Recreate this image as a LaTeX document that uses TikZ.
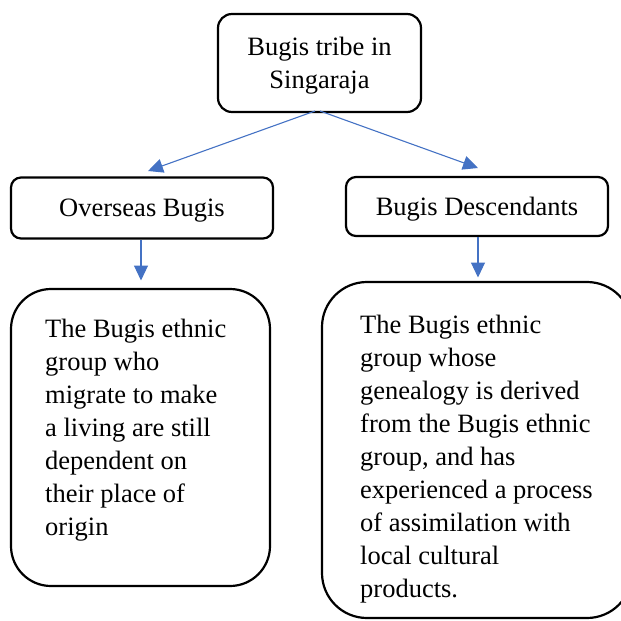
\documentclass[tikz,border=0pt]{standalone}
\usepackage{fontspec}
\setmainfont{Liberation Serif}
\usetikzlibrary{arrows.meta}
\definecolor{arrblue}{HTML}{4472C4}
\tikzset{
  box/.style={draw=black, line width=2.2pt, fill=none, inner sep=0pt},
  lbl/.style={font=\fontsize{26.5}{33}\selectfont, inner sep=0pt},
  conn/.style={draw=arrblue, line width=1.1pt, -{Triangle[length=15pt,width=14pt]}}
}
\begin{document}
\begin{tikzpicture}[x=1pt,y=-1pt]
\useasboundingbox (0,0) rectangle (621,621);
\clip (0,0) rectangle (621,621);
% top box
\node[box, rounded corners=14pt, minimum width=203pt, minimum height=98pt, align=center, lbl, text depth=0pt] (top) at (319.5,63) {Bugis tribe in\\Singaraja};
% second level
\node[box, rounded corners=10pt, minimum width=262pt, minimum height=61pt, lbl, text depth=0pt] (ob) at (142,208) {Overseas Bugis};
\node[box, rounded corners=10pt, minimum width=262pt, minimum height=59pt, lbl, text depth=0pt] (bd) at (477,206.5) {Bugis Descendants};
% big boxes
\node[box, rounded corners=40pt, minimum width=259pt, minimum height=297pt] (lb) at (140.5,437.5) {};
\node[box, rounded corners=45pt, minimum width=310pt, minimum height=336pt] (rb) at (477,450) {};
\node[lbl, anchor=north west, align=left] (lt) at (45,313.9) {\strut The Bugis ethnic\\group who\\migrate to make\\a living are still\\dependent on\\their place of\\origin};
\node[lbl, anchor=north west, align=left] (rt) at (360,309.9) {\strut The Bugis ethnic\\group whose\\genealogy is derived\\from the Bugis ethnic\\group, and has\\experienced a process\\of assimilation with\\local cultural\\products.};
% connectors
\coordinate (s1) at (315,111);
\coordinate (s2) at (320,111);
\coordinate (t1) at (148,171);
\coordinate (t2) at (478,168);
\coordinate (t3) at (141,280.5);
\coordinate (t4) at (478,277.5);
\draw[conn] (s1) -- (t1);
\draw[conn] (s2) -- (t2);
\draw[conn] (ob.south -| t3) -- (t3);
\draw[conn] (bd.south -| t4) -- (t4);
\end{tikzpicture}
\end{document}
